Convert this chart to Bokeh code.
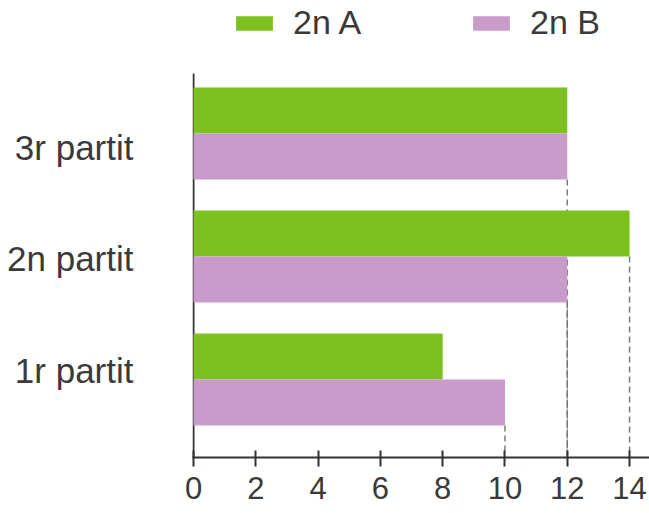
from bokeh.plotting import figure
from bokeh.models import ColumnDataSource, FixedTicker, Legend, LegendItem, Range1d
from bokeh.embed import file_html
from bokeh.resources import INLINE

# ---- data ----
categories = ["1r partit", "2n partit", "3r partit"]
series_names = ["2n A", "2n B"]
values_a = [8, 14, 12]
values_b = [10, 12, 12]
x_ticks = [0, 2, 4, 6, 8, 10, 12, 14]

# ---- style / layout ----
GREEN = "#7cc11f"
PINK = "#c99bcb"
TEXT = "#3a3a3a"
AXIS = "#333333"
FONT = "Liberation Sans"
BAR_H = 0.374
Y0, Y1 = -0.634, 3.081      # frame extends to the top so the legend fits inside it
AXIS_TOP = 2.488            # where the vertical axis line stops
X0, X1 = -0.032, 14.64

pos = list(range(len(categories)))
label_pos = [0.07 + 0.91 * i for i in pos]

p = figure(width=649, height=513, output_backend="svg", toolbar_location=None,
           x_range=Range1d(X0, X1), y_range=Range1d(Y0, Y1),
           min_border_left=192, min_border_right=0,
           min_border_top=0, min_border_bottom=56)
p.outline_line_color = None
p.xgrid.visible = False
p.ygrid.visible = False
p.background_fill_color = "white"
p.border_fill_color = "white"

# dashed guide lines from bar ends to the x axis
seg_x, seg_y0 = [], []
for i in pos:
    seg_x.append(values_b[i]); seg_y0.append(i - BAR_H)
    if values_a[i] > values_b[i]:
        seg_x.append(values_a[i]); seg_y0.append(i)
p.segment(x0=seg_x, y0=seg_y0, x1=seg_x, y1=[Y0] * len(seg_x),
          line_color="#7a7a7a", line_width=1.5, line_dash="6 4")

# vertical axis line (value axis origin)
p.segment(x0=[0], y0=[Y0], x1=[0], y1=[AXIS_TOP], line_color=AXIS, line_width=2)

src_a = ColumnDataSource(dict(y=[i + BAR_H / 2 for i in pos], right=values_a))
src_b = ColumnDataSource(dict(y=[i - BAR_H / 2 for i in pos], right=values_b))
ra = p.hbar(y="y", right="right", left=0, height=BAR_H, source=src_a,
            fill_color=GREEN, line_color=None)
rb = p.hbar(y="y", right="right", left=0, height=BAR_H, source=src_b,
            fill_color=PINK, line_color=None)

# x axis
xa = p.xaxis[0]
xa.ticker = FixedTicker(ticks=x_ticks)
xa.minor_tick_line_color = None
xa.axis_line_color = AXIS
xa.axis_line_width = 2
xa.major_tick_line_color = AXIS
xa.major_tick_line_width = 2
xa.major_tick_in = 7
xa.major_tick_out = 9
xa.major_label_standoff = 10
xa.major_label_text_font = FONT
xa.major_label_text_font_size = "31px"
xa.major_label_text_color = TEXT

# y axis (labels only)
ya = p.yaxis[0]
ya.ticker = FixedTicker(ticks=label_pos)
ya.major_label_overrides = {lp: c for lp, c in zip(label_pos, categories)}
ya.minor_tick_line_color = None
ya.major_tick_line_color = None
ya.major_tick_in = 0
ya.major_tick_out = 0
ya.axis_line_color = None
ya.major_label_standoff = 59
ya.major_label_text_font = FONT
ya.major_label_text_font_size = "35px"
ya.major_label_text_color = TEXT

legend = Legend(items=[LegendItem(label=series_names[0], renderers=[ra]),
                       LegendItem(label=series_names[1], renderers=[rb])],
                location=(39, 415), orientation="horizontal",
                glyph_width=46, glyph_height=18, label_standoff=16,
                spacing=107, padding=0, margin=0,
                border_line_color=None, background_fill_alpha=0,
                label_text_font=FONT, label_text_font_size="34px",
                label_text_color=TEXT)
p.add_layout(legend)

open("out.html", "w").write(file_html(p, INLINE))
